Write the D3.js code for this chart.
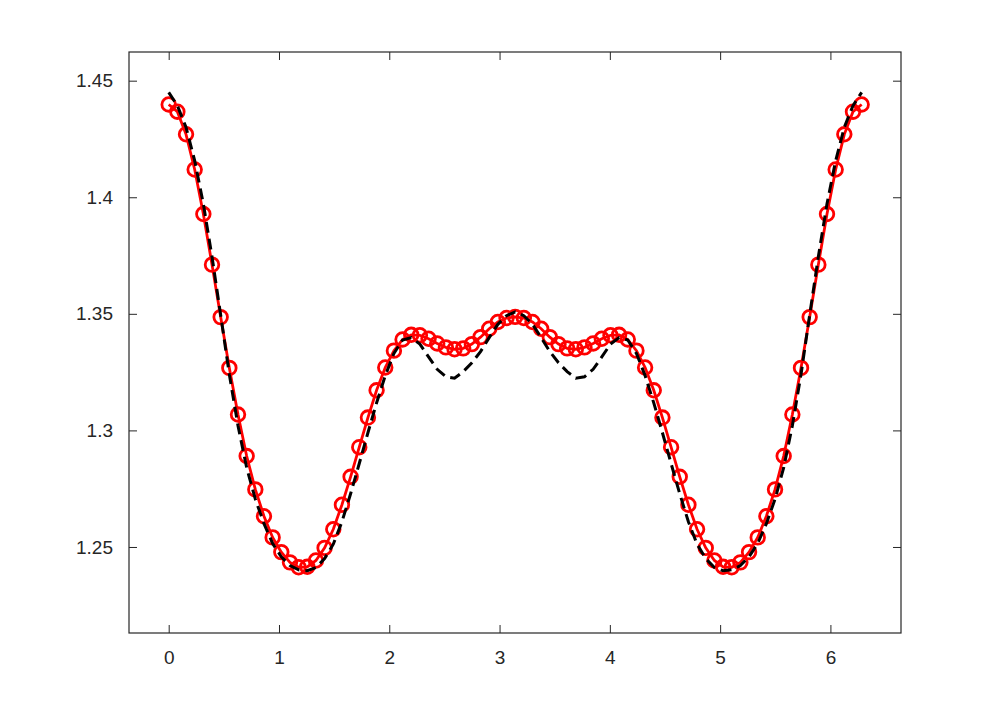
<!DOCTYPE html>
<html>
<head>
<meta charset="utf-8">
<script src="https://cdn.jsdelivr.net/npm/d3@7"></script>
<style>
  html, body { margin: 0; padding: 0; background: #fff; }
  svg { display: block; }
</style>
</head>
<body>
<div id="chart"></div>
<script>
// sample positions, 0 .. 2*pi
var xs = [0, 0.0785, 0.1571, 0.2356, 0.3142, 0.3927, 0.4712, 0.5498, 0.6283, 0.7069,
  0.7854, 0.8639, 0.9425, 1.0210, 1.0996, 1.1781, 1.2566, 1.3352, 1.4137, 1.4923,
  1.5708, 1.6493, 1.7279, 1.8064, 1.8850, 1.9635, 2.0420, 2.1206, 2.1991, 2.2777,
  2.3562, 2.4347, 2.5133, 2.5918, 2.6704, 2.7489, 2.8274, 2.9060, 2.9845, 3.0631,
  3.1416, 3.2201, 3.2987, 3.3772, 3.4558, 3.5343, 3.6128, 3.6914, 3.7699, 3.8485,
  3.9270, 4.0055, 4.0841, 4.1626, 4.2412, 4.3197, 4.3982, 4.4768, 4.5553, 4.6339,
  4.7124, 4.7909, 4.8695, 4.9480, 5.0265, 5.1051, 5.1836, 5.2622, 5.3407, 5.4192,
  5.4978, 5.5763, 5.6549, 5.7334, 5.8119, 5.8905, 5.9690, 6.0476, 6.1261, 6.2046,
  6.2832];

// red line with circle markers
var redVals = [1.4398, 1.4367, 1.4270, 1.4119, 1.3928, 1.3711, 1.3486, 1.3268, 1.3068, 1.2890,
  1.2747, 1.2632, 1.2541, 1.2478, 1.2434, 1.2413, 1.2415, 1.2442, 1.2496, 1.2576,
  1.2681, 1.2801, 1.2928, 1.3055, 1.3172, 1.3270, 1.3342, 1.3390, 1.3410, 1.3408,
  1.3393, 1.3373, 1.3356, 1.3348, 1.3352, 1.3370, 1.3400, 1.3436, 1.3465, 1.3482,
  1.3487, 1.3482, 1.3465, 1.3436, 1.3400, 1.3370, 1.3352, 1.3348, 1.3356, 1.3373,
  1.3393, 1.3408, 1.3410, 1.3390, 1.3342, 1.3270, 1.3172, 1.3055, 1.2928, 1.2801,
  1.2681, 1.2576, 1.2496, 1.2442, 1.2415, 1.2413, 1.2434, 1.2478, 1.2541, 1.2632,
  1.2747, 1.2890, 1.3068, 1.3268, 1.3486, 1.3711, 1.3928, 1.4119, 1.4270, 1.4367,
  1.4398];

// black dashed line
var blackVals = [1.4450, 1.4393, 1.4300, 1.4157, 1.3972, 1.3745, 1.3495, 1.3240, 1.3020, 1.2840,
  1.2705, 1.2600, 1.2515, 1.2458, 1.2420, 1.2402, 1.2398, 1.2412, 1.2450, 1.2512,
  1.2608, 1.2728, 1.2858, 1.2990, 1.3118, 1.3235, 1.3330, 1.3388, 1.3398, 1.3370,
  1.3315, 1.3262, 1.3230, 1.3224, 1.3252, 1.3290, 1.3338, 1.3398, 1.3455, 1.3492,
  1.3508, 1.3492, 1.3455, 1.3398, 1.3338, 1.3290, 1.3252, 1.3224, 1.3230, 1.3262,
  1.3315, 1.3370, 1.3398, 1.3388, 1.3330, 1.3235, 1.3118, 1.2990, 1.2858, 1.2728,
  1.2608, 1.2512, 1.2450, 1.2412, 1.2398, 1.2402, 1.2420, 1.2458, 1.2515, 1.2600,
  1.2705, 1.2840, 1.3020, 1.3240, 1.3495, 1.3745, 1.3972, 1.4157, 1.4300, 1.4393,
  1.4450];

var xTicks = [0, 1, 2, 3, 4, 5, 6];
var yTicks = [1.25, 1.3, 1.35, 1.4, 1.45];
var yTickLabels = ['1.25', '1.3', '1.35', '1.4', '1.45'];

var width = 997, height = 713;
var box = { left: 129, right: 901, top: 52, bottom: 633 };
var axisColor = '#262626';

var svg = d3.select('#chart')
  .append('svg')
  .attr('width', width)
  .attr('height', height)
  .style('background', '#fff');

var x = d3.scaleLinear().domain([-0.36, 6.64]).range([box.left, box.right]);
var y = d3.scaleLinear().domain([1.2131, 1.4623]).range([box.bottom, box.top]);

// axes: ticks point inward on all four sides (box on)
var tickLen = 8;
var g = svg.append('g');

g.append('g')
  .attr('transform', 'translate(0,' + box.bottom + ')')
  .call(d3.axisBottom(x).tickValues(xTicks).tickSizeInner(-tickLen).tickSizeOuter(0).tickPadding(18)
    .tickFormat(d3.format('d')));
g.append('g')
  .attr('transform', 'translate(0,' + box.top + ')')
  .call(d3.axisTop(x).tickValues(xTicks).tickSizeInner(-tickLen).tickSizeOuter(0).tickFormat(''));
g.append('g')
  .attr('transform', 'translate(' + box.left + ',0)')
  .call(d3.axisLeft(y).tickValues(yTicks).tickSizeInner(-tickLen).tickSizeOuter(0).tickPadding(16)
    .tickFormat(function (d, i) { return yTickLabels[i]; }));
g.append('g')
  .attr('transform', 'translate(' + box.right + ',0)')
  .call(d3.axisRight(y).tickValues(yTicks).tickSizeInner(-tickLen).tickSizeOuter(0).tickFormat(''));

g.selectAll('.domain').remove();
g.selectAll('.tick line').attr('stroke', axisColor).attr('stroke-width', 1);
g.selectAll('.tick text')
  .attr('fill', axisColor)
  .style('font-family', '"Liberation Sans", Arial, Helvetica, sans-serif')
  .style('font-size', '19px');

// frame
svg.append('rect')
  .attr('x', box.left)
  .attr('y', box.top)
  .attr('width', box.right - box.left)
  .attr('height', box.bottom - box.top)
  .attr('fill', 'none')
  .attr('stroke', axisColor)
  .attr('stroke-width', 1.2);

var redData = xs.map(function (d, i) { return [d, redVals[i]]; });
var blackData = xs.map(function (d, i) { return [d, blackVals[i]]; });

var line = d3.line()
  .x(function (d) { return x(d[0]); })
  .y(function (d) { return y(d[1]); });

// red series first, black dashed drawn over it
svg.append('path')
  .datum(redData)
  .attr('d', line)
  .attr('fill', 'none')
  .attr('stroke', '#ff0000')
  .attr('stroke-width', 2.8);

svg.append('g')
  .selectAll('circle')
  .data(redData).enter()
    .append('circle')
    .attr('cx', function (d) { return x(d[0]); })
    .attr('cy', function (d) { return y(d[1]); })
    .attr('r', 6.8)
    .attr('fill', 'none')
    .attr('stroke', '#ff0000')
    .attr('stroke-width', 2.8);

svg.append('path')
  .datum(blackData)
  .attr('d', line)
  .attr('fill', 'none')
  .attr('stroke', '#000')
  .attr('stroke-width', 3)
  .attr('stroke-dasharray', '11,6');
</script>
</body>
</html>
